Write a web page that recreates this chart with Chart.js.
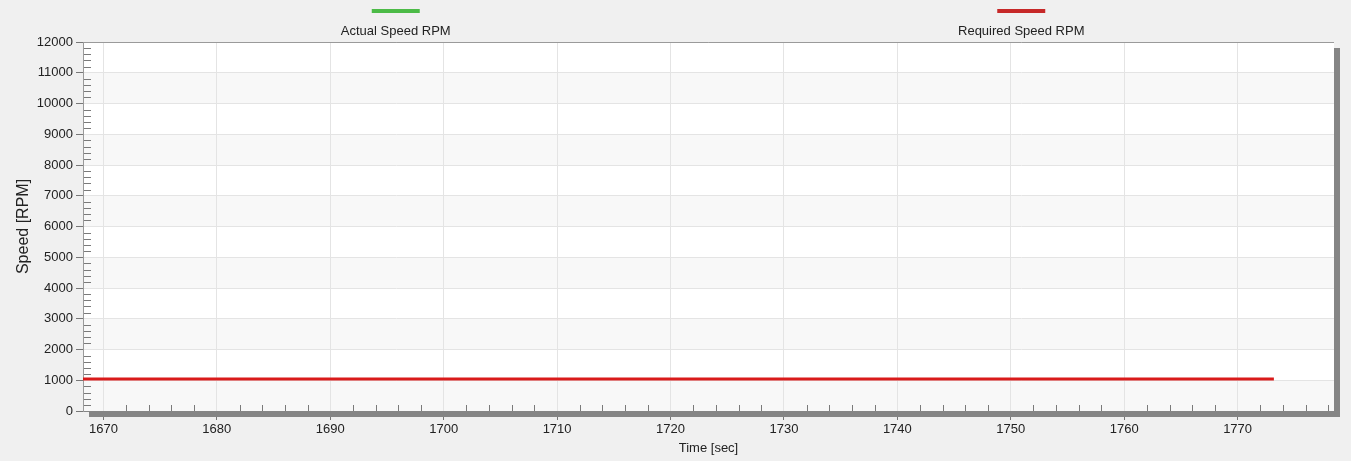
<!DOCTYPE html>
<html>
<head>
<meta charset="utf-8">
<script src="https://cdn.jsdelivr.net/npm/chart.js@4.4.0/dist/chart.umd.min.js"></script>
<style>
  html, body { margin: 0; padding: 0; background: #f0f0f0; }
  canvas { display: block; }
</style>
</head>
<body>
<canvas id="speedChart" width="1351" height="461"></canvas>
<script>
// series names and colours for the legend
const seriesNames = ['Actual Speed RPM', 'Required Speed RPM'];
const seriesColors = ['#4cbb47', '#c62828'];

// actual speed has no visible samples in this window
const actualTime = [];
const actualSpeed = [];

// required speed: flat set point up to ~1773 s
const requiredTime = [1668, 1773.2];
const requiredSpeed = [1040, 1040];

const xTicks = [1670, 1680, 1690, 1700, 1710, 1720, 1730, 1740, 1750, 1760, 1770];
const yTicks = [0, 1000, 2000, 3000, 4000, 5000, 6000, 7000, 8000, 9000, 10000, 11000, 12000];

const xMin = 1668.2, xMax = 1778.5;
const tickFont = { family: 'Liberation Sans', size: 13 };

// white plot area with alternating light bands
const plotBackground = {
  id: 'plotBackground',
  beforeDraw(chart) {
    const { ctx, chartArea: a, scales: { y } } = chart;
    ctx.save();
    ctx.fillStyle = '#ffffff';
    ctx.fillRect(a.left, a.top, a.right - a.left, a.bottom - a.top);
    ctx.fillStyle = '#f8f8f8';
    for (let i = 0; i < yTicks.length - 1; i += 2) {
      const y0 = y.getPixelForValue(yTicks[i]);
      const y1 = y.getPixelForValue(yTicks[i + 1]);
      ctx.fillRect(a.left, y1, a.right - a.left, y0 - y1);
    }
    ctx.restore();
  }
};

// minor ticks, frame and drop shadow
const frame = {
  id: 'frame',
  beforeDatasetsDraw(chart) {
    const { ctx, chartArea: a, scales: { x, y } } = chart;
    ctx.save();
    ctx.strokeStyle = '#7a7a7a';
    ctx.lineWidth = 1;
    ctx.beginPath();
    for (let v = 200; v < 12000; v += 200) {
      if (v % 1000 === 0) continue;
      const py = Math.round(y.getPixelForValue(v)) + 0.5;
      ctx.moveTo(a.left, py);
      ctx.lineTo(a.left + 8, py);
    }
    for (let v = 1662; v <= xMax; v += 2) {
      if (v < xMin || v % 10 === 0) continue;
      const px = Math.round(x.getPixelForValue(v)) + 0.5;
      ctx.moveTo(px, a.bottom);
      ctx.lineTo(px, a.bottom - 6);
    }
    ctx.stroke();

    ctx.strokeStyle = '#9a9a9a';
    ctx.beginPath();
    ctx.moveTo(a.left + 0.5, a.bottom);
    ctx.lineTo(a.left + 0.5, a.top + 0.5);
    ctx.lineTo(a.right, a.top + 0.5);
    ctx.stroke();

    ctx.fillStyle = '#858585';
    ctx.fillRect(a.left + 6, a.bottom, a.right - a.left, 6);
    ctx.fillRect(a.right, a.top + 6, 6, a.bottom - a.top);
    ctx.restore();
  }
};

// legend: swatch above the name, each centred in half of the plot
const topLegend = {
  id: 'topLegend',
  afterDraw(chart) {
    const { ctx, chartArea: a } = chart;
    const w = a.right - a.left;
    ctx.save();
    ctx.font = '13px "Liberation Sans"';
    ctx.textAlign = 'center';
    ctx.textBaseline = 'middle';
    chart.data.datasets.forEach((ds, i) => {
      const cx = a.left + w * (2 * i + 1) / 4;
      ctx.fillStyle = seriesColors[i];
      ctx.fillRect(cx - 24, 9, 48, 4);
      ctx.fillStyle = '#222';
      ctx.fillText(ds.label, cx, 31);
    });
    ctx.restore();
  }
};

new Chart(document.getElementById('speedChart'), {
  type: 'line',
  data: {
    datasets: [
      {
        label: seriesNames[0],
        data: actualTime.map((t, i) => ({ x: t, y: actualSpeed[i] })),
        borderColor: seriesColors[0],
        borderWidth: 3,
        pointRadius: 0
      },
      {
        label: seriesNames[1],
        data: requiredTime.map((t, i) => ({ x: t, y: requiredSpeed[i] })),
        borderColor: '#d91a1a',
        borderWidth: 3,
        pointRadius: 0
      }
    ]
  },
  options: {
    responsive: false,
    animation: false,
    layout: { padding: { left: 0, right: 17, top: 42, bottom: 0 } },
    plugins: {
      legend: { display: false },
      tooltip: { enabled: false }
    },
    scales: {
      x: {
        type: 'linear',
        min: xMin,
        max: xMax,
        afterBuildTicks: s => { s.ticks = xTicks.map(v => ({ value: v })); },
        afterFit: s => { s.height = 50; },
        ticks: { font: tickFont, color: '#222', padding: 2, maxRotation: 0, callback: v => String(v) },
        grid: { color: '#e4e4e4', tickLength: 9, tickColor: '#777' },
        border: { color: '#858585' },
        title: {
          display: true,
          text: 'Time [sec]',
          font: { family: 'Liberation Sans', size: 13 },
          color: '#222',
          padding: { top: 0, bottom: 5 }
        }
      },
      y: {
        min: 0,
        max: 12000,
        afterBuildTicks: s => { s.ticks = yTicks.map(v => ({ value: v })); },
        afterFit: s => { s.width = 83; },
        ticks: { font: tickFont, color: '#222', padding: 3, callback: v => String(v) },
        grid: { color: '#e4e4e4', tickLength: 7, tickColor: '#777' },
        border: { color: '#9a9a9a' },
        title: {
          display: true,
          text: 'Speed [RPM]',
          font: { family: 'Liberation Sans', size: 16 },
          color: '#222',
          padding: { top: 14, bottom: 0 }
        }
      }
    }
  },
  plugins: [plotBackground, frame, topLegend]
});
</script>
</body>
</html>
